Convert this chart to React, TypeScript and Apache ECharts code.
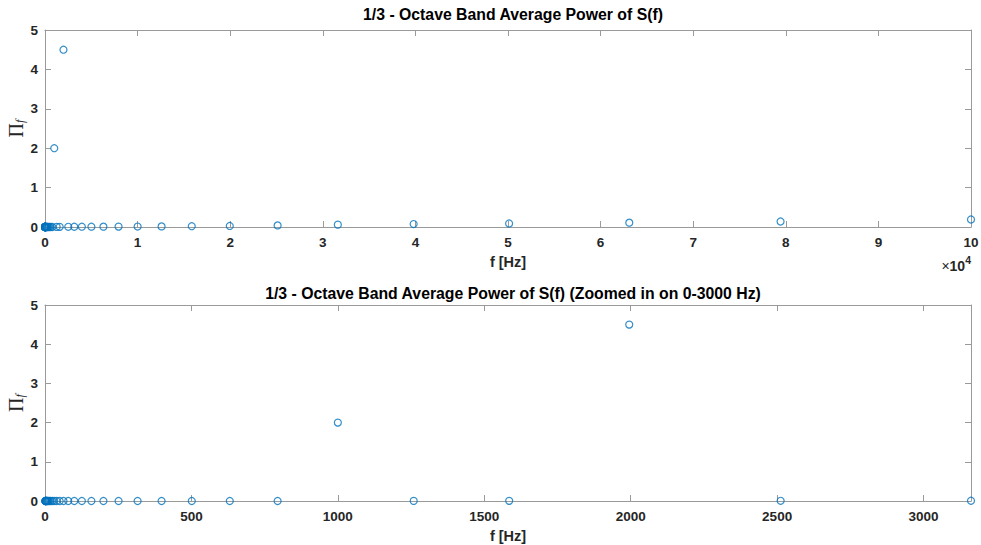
import React, { useEffect, useRef } from "react";
import * as echarts from "echarts";

const freqs = [
  1, 1.259, 1.585, 1.995, 2.512, 3.162, 3.981, 5.012, 6.31, 7.943,
  10, 12.59, 15.85, 19.95, 25.12, 31.62, 39.81, 50.12, 63.1, 79.43,
  100, 125.9, 158.5, 199.5, 251.2, 316.2, 398.1, 501.2, 631.0, 794.3,
  1000, 1259, 1585, 1995, 2512, 3162, 3981, 5012, 6310, 7943,
  10000, 12589, 15849, 19953, 25119, 31623, 39811, 50119, 63096, 79433, 100000,
];
const power = [
  0, 0, 0, 0, 0, 0, 0, 0, 0, 0,
  0, 0, 0, 0, 0, 0, 0, 0, 0, 0,
  0, 0, 0, 0, 0, 0, 0, 0, 0, 0,
  2.0, 0.003, 0.004, 4.5, 0.005, 0.006, 0.007, 0.008, 0.009, 0.01,
  0.012, 0.015, 0.02, 0.026, 0.04, 0.06, 0.075, 0.09, 0.11, 0.14, 0.19,
];
const titles = [
  "1/3 - Octave Band Average Power of S(f)",
  "1/3 - Octave Band Average Power of S(f) (Zoomed in on 0-3000 Hz)",
];
const xLabel = "f [Hz]";
const zoomMax = 3162;

const FONT = "'Liberation Sans', Arial, Helvetica, sans-serif";
const SERIF = "'Liberation Serif', 'DejaVu Serif', serif";
const TXT = "#262626";
const AX = "#9a9a9a";

export default function App() {
  const ref = useRef<HTMLDivElement>(null);
  useEffect(() => {
    if (!ref.current) return;
    const chart = echarts.init(ref.current, null, { renderer: "svg" });
    const pts = freqs.map((f, i) => [f, power[i]]);
    const zoomPts = pts.filter((p) => p[0] <= zoomMax);

    const grids = [
      { left: 45, right: 10, top: 30, height: 197, containLabel: false, outerBoundsMode: "none" },
      { left: 45, right: 10, top: 305, height: 196, containLabel: false, outerBoundsMode: "none" },
    ];
    const tickLabel = {
      color: TXT,
      fontFamily: FONT,
      fontWeight: "bold" as const,
      fontSize: 13.5,
    };
    const mkX = (gi: number, max: number, interval: number, fmt: (v: number) => string) => [
      {
        type: "value",
        gridIndex: gi,
        min: 0,
        max,
        interval,
        position: "bottom",
        name: xLabel,
        nameLocation: "middle",
        nameGap: 27,
        nameMoveOverlap: false,
        nameTextStyle: { color: TXT, fontFamily: FONT, fontWeight: "bold", fontSize: 14.5 },
        axisLine: { show: true, onZero: false, lineStyle: { color: AX, width: 1 } },
        axisTick: { show: true, inside: true, length: 6, lineStyle: { color: AX } },
        axisLabel: { ...tickLabel, margin: 8, formatter: fmt, showMaxLabel: max === 100000 },
        splitLine: { show: false },
      },
      {
        type: "value",
        gridIndex: gi,
        min: 0,
        max,
        interval,
        position: "top",
        axisLine: { show: true, onZero: false, lineStyle: { color: AX, width: 1 } },
        axisTick: { show: true, inside: true, length: 6, lineStyle: { color: AX } },
        axisLabel: { show: false },
        splitLine: { show: false },
      },
    ];
    const mkY = (gi: number) => [
      {
        type: "value",
        gridIndex: gi,
        min: 0,
        max: 5,
        interval: 1,
        position: "left",
        name: "{p|Π}{s|f}",
        nameLocation: "middle",
        nameGap: 19,
        nameMoveOverlap: false,
        nameRotate: 90,
        nameTextStyle: {
          rich: {
            p: { fontFamily: SERIF, fontSize: 20, color: TXT, lineHeight: 22, verticalAlign: "bottom" },
            s: { fontFamily: SERIF, fontStyle: "italic", fontSize: 12, color: TXT, lineHeight: 22, verticalAlign: "bottom", padding: [8, 0, 0, 0] },
          },
        },
        axisLine: { show: true, onZero: false, lineStyle: { color: AX, width: 1 } },
        axisTick: { show: true, inside: true, length: 6, lineStyle: { color: AX } },
        axisLabel: { ...tickLabel, margin: 7 },
        splitLine: { show: false },
      },
      {
        type: "value",
        gridIndex: gi,
        min: 0,
        max: 5,
        interval: 1,
        position: "right",
        axisLine: { show: true, onZero: false, lineStyle: { color: AX, width: 1 } },
        axisTick: { show: true, inside: true, length: 6, lineStyle: { color: AX } },
        axisLabel: { show: false },
        splitLine: { show: false },
      },
    ];

    const marker = {
      type: "scatter",
      symbol: "circle",
      symbolSize: 7,
      clip: false,
      itemStyle: { color: "rgba(0,0,0,0)", borderColor: "#0072BD", borderWidth: 1.2 },
      emphasis: { disabled: true },
    };

    chart.setOption({
      animation: false,
      backgroundColor: "#ffffff",
      title: titles.map((t, i) => ({
        text: t,
        left: 508,
        textAlign: "center",
        top: i === 0 ? 1 : 280,
        textStyle: { color: "#000", fontFamily: FONT, fontWeight: "bold", fontSize: 15.8 },
      })),
      grid: grids,
      xAxis: [
        ...mkX(0, 100000, 10000, (v: number) => String(v / 10000)),
        ...mkX(1, zoomMax, 500, (v: number) => String(v)),
      ],
      yAxis: [...mkY(0), ...mkY(1)],
      series: [
        { ...marker, xAxisIndex: 0, yAxisIndex: 0, data: pts },
        { ...marker, xAxisIndex: 2, yAxisIndex: 2, data: zoomPts },
      ],
      graphic: [
        {
          type: "text",
          right: 10,
          top: 254,
          style: {
            text: "{x|×}{a|10}{b|4}",
            rich: {
              x: { fontFamily: FONT, fontSize: 14, fill: TXT, lineHeight: 19, verticalAlign: "bottom" },
              a: { fontFamily: FONT, fontSize: 14, fontWeight: "bold", fill: TXT, lineHeight: 19, verticalAlign: "bottom" },
              b: { fontFamily: FONT, fontSize: 10.5, fontWeight: "bold", fill: TXT, lineHeight: 19, verticalAlign: "top" },
            },
          },
        },
      ],
    });
    return () => chart.dispose();
  }, []);
  return <div ref={ref} style={{ width: 981, height: 545, position: "absolute", left: 0, top: 0 }} />;
}
